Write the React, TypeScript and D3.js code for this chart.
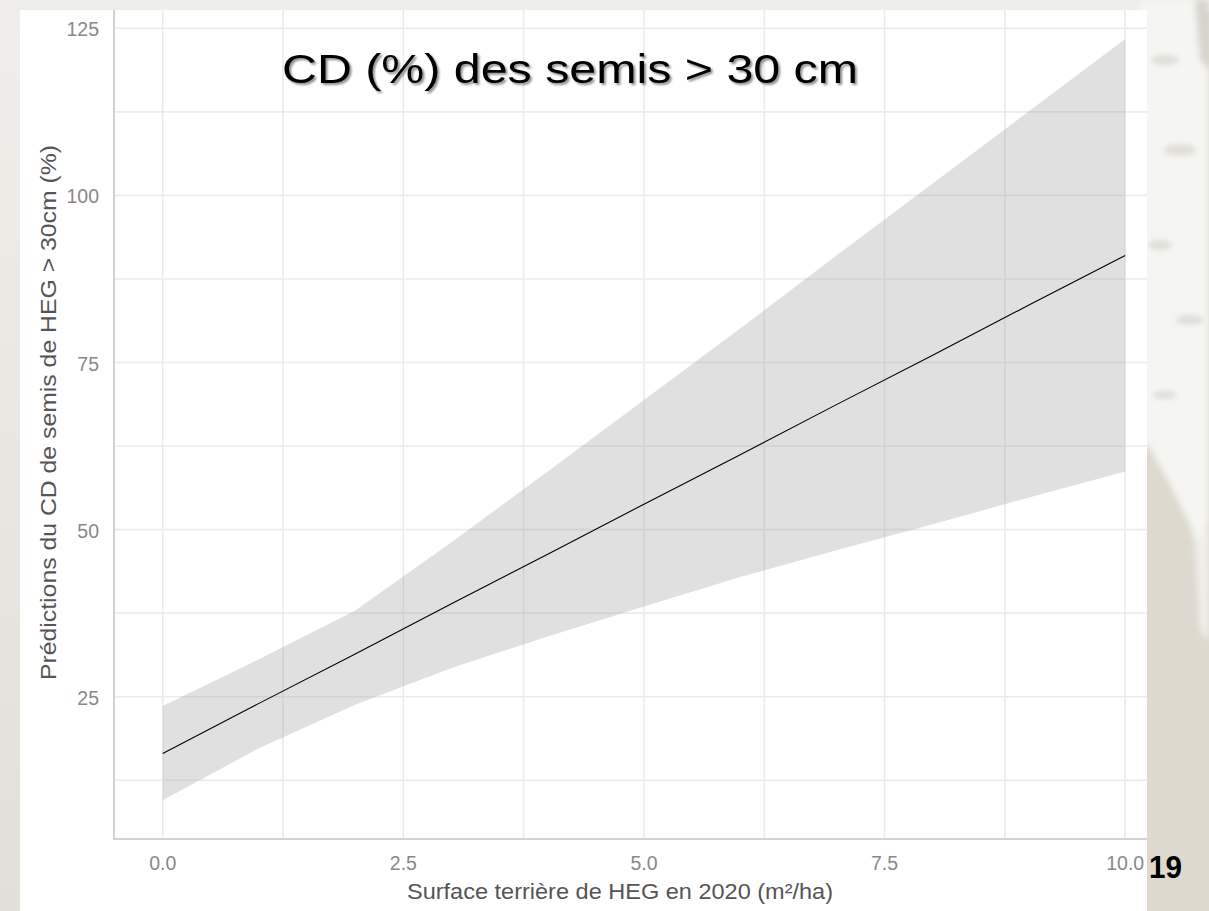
import React from "react";
import * as d3 from "d3";

// Basal area of HEG in 2020 (m²/ha)
const basalArea = [0, 1, 2, 3, 4, 5, 6, 7, 8, 9, 10];
// Predicted CD (%) of seedlings > 30 cm, with lower / upper confidence bounds
const predicted = [16.5, 24.0, 31.4, 38.9, 46.3, 53.8, 61.2, 68.7, 76.1, 83.6, 91.0];
const lowerBound = [9.5, 17.3, 23.8, 29.3, 34.0, 38.5, 42.9, 46.9, 50.8, 54.8, 58.7];
const upperBound = [23.6, 30.6, 37.9, 48.1, 58.7, 69.4, 80.1, 91.0, 101.8, 112.6, 123.4];

const yMajorTicks = [25, 50, 75, 100, 125];
const yMinorTicks = [12.5, 37.5, 62.5, 87.5, 112.5];
const xMajorTicks = [0, 2.5, 5, 7.5, 10];
const xMinorTicks = [1.25, 3.75, 6.25, 8.75];

const title = "CD (%) des semis > 30 cm";
const xTitle = "Surface terrière de HEG en 2020 (m²/ha)";
const yTitle = "Prédictions du CD de semis de HEG > 30cm (%)";
const slideNumber = "19";

const W = 1209;
const H = 911;
const FONT = "'Liberation Sans', Arial, sans-serif";

export default function App() {
  // panel geometry
  const panelLeft = 114;
  const panelBottom = 839;
  const cardLeft = 20;
  const cardTop = 10;
  const cardRight = 1147;

  const x = d3.scaleLinear().domain([-0.5, 10.5]).range([114.6, 1173.3]);
  const y = d3.scaleLinear().domain([3.71, 127.74]).range([panelBottom, cardTop]);

  const rows = basalArea.map((b, i) => ({
    b,
    fit: predicted[i],
    lo: lowerBound[i],
    hi: upperBound[i],
  }));

  const ribbon = d3
    .area<any>()
    .x((d) => x(d.b))
    .y0((d) => y(d.lo))
    .y1((d) => y(d.hi))(rows) as string;

  const fitLine = d3
    .line<any>()
    .x((d) => x(d.b))
    .y((d) => y(d.fit))(rows) as string;

  const grid = "#ebebeb";

  return (
    <div style={{ position: "absolute", left: 0, top: 0 }}>
      <svg width={W} height={H} viewBox={`0 0 ${W} ${H}`} style={{ display: "block" }}>
        <defs>
          <linearGradient id="leftStrip" x1="0" y1="0" x2="0" y2="1">
            <stop offset="0" stopColor="#efeeea" />
            <stop offset="1" stopColor="#e2dfd8" />
          </linearGradient>
          <filter id="soft" x="-20%" y="-20%" width="140%" height="140%">
            <feGaussianBlur stdDeviation="3" />
          </filter>
          <filter id="softer" x="-20%" y="-20%" width="140%" height="140%">
            <feGaussianBlur stdDeviation="2.5" />
          </filter>
          <filter id="titleShadow" x="-5%" y="-30%" width="110%" height="160%">
            <feGaussianBlur in="SourceAlpha" stdDeviation="1.2" />
            <feOffset dx="2" dy="2" result="off" />
            <feComponentTransfer>
              <feFuncA type="linear" slope="0.45" />
            </feComponentTransfer>
            <feMerge>
              <feMergeNode />
              <feMergeNode in="SourceGraphic" />
            </feMerge>
          </filter>
          <clipPath id="card">
            <rect x={cardLeft} y={cardTop} width={cardRight - cardLeft} height={H - cardTop} />
          </clipPath>
        </defs>

        {/* slide backdrop */}
        <rect x={0} y={0} width={W} height={H} fill="#ddd9ce" />
        <rect x={0} y={0} width={cardLeft + 2} height={H} fill="url(#leftStrip)" />
        <rect x={0} y={0} width={W} height={cardTop + 2} fill="#eeedea" />
        <g filter="url(#soft)">
          <path
            d="M1140,0 L1209,0 L1209,520 L1200,560 L1190,525 L1172,488 L1150,448 L1140,440 Z"
            fill="#f5f5f2"
          />
          <path d="M1195,0 L1209,0 L1209,70 L1200,60 Z" fill="#d6d3cb" />
          <path d="M1195,540 L1209,530 L1209,640 L1200,630 Z" fill="#f0efeb" />
        </g>
        <g filter="url(#softer)" fill="#d8d5cd" opacity={0.7}>
          <ellipse cx={1165} cy={60} rx={14} ry={5} />
          <ellipse cx={1180} cy={150} rx={16} ry={6} />
          <ellipse cx={1160} cy={245} rx={12} ry={5} />
          <ellipse cx={1190} cy={320} rx={14} ry={5} />
          <ellipse cx={1165} cy={395} rx={12} ry={4} />
        </g>

        {/* chart card */}
        <rect x={cardLeft} y={cardTop} width={cardRight - cardLeft} height={H - cardTop} fill="#ffffff" />

        <g clipPath="url(#card)">
          {/* grid */}
          {yMinorTicks.concat(yMajorTicks).map((t) => (
            <line key={"gy" + t} x1={panelLeft} x2={cardRight} y1={y(t)} y2={y(t)} stroke={grid} strokeWidth={1.6} />
          ))}
          {xMinorTicks.concat(xMajorTicks).map((t) => (
            <line key={"gx" + t} x1={x(t)} x2={x(t)} y1={cardTop} y2={panelBottom} stroke={grid} strokeWidth={1.6} />
          ))}

          {/* confidence band and fitted line */}
          <path d={ribbon} fill="#999999" fillOpacity={0.3} />
          <path d={fitLine} fill="none" stroke="#000000" strokeWidth={1.1} />

          {/* axis lines */}
          <line x1={panelLeft} x2={panelLeft} y1={cardTop} y2={panelBottom + 1} stroke="#d3d3d3" strokeWidth={2} />
          <line x1={panelLeft} x2={cardRight} y1={panelBottom} y2={panelBottom} stroke="#d3d3d3" strokeWidth={2} />
        </g>

        {/* tick labels */}
        <g fontFamily={FONT} fontSize={19.5} fill="#8a8886">
          {yMajorTicks.map((t) => (
            <text key={"ty" + t} x={99} y={y(t) + 1} textAnchor="end" dominantBaseline="central">
              {d3.format("d")(t)}
            </text>
          ))}
          {xMajorTicks.map((t) => (
            <text key={"tx" + t} x={x(t)} y={870} textAnchor="middle">
              {d3.format(".1f")(t)}
            </text>
          ))}
        </g>

        {/* axis titles */}
        <text x={407} y={899} fontFamily={FONT} fontSize={22} fill="#555555" textLength={426} lengthAdjust="spacingAndGlyphs">
          {xTitle}
        </text>
        <text
          transform={`translate(56,680) rotate(-90)`}
          fontFamily={FONT}
          fontSize={22}
          fill="#555555"
          textLength={535}
          lengthAdjust="spacingAndGlyphs"
        >
          {yTitle}
        </text>

        {/* slide title */}
        <text
          x={282}
          y={83}
          fontFamily={FONT}
          fontSize={40}
          fill="#000000"
          textLength={576}
          lengthAdjust="spacingAndGlyphs"
          filter="url(#titleShadow)"
        >
          {title}
        </text>

        {/* slide number */}
        <text x={1149} y={878} fontFamily={FONT} fontWeight="bold" fontSize={31} fill="#000000" textLength={33} lengthAdjust="spacingAndGlyphs">
          {slideNumber}
        </text>
      </svg>
    </div>
  );
}
